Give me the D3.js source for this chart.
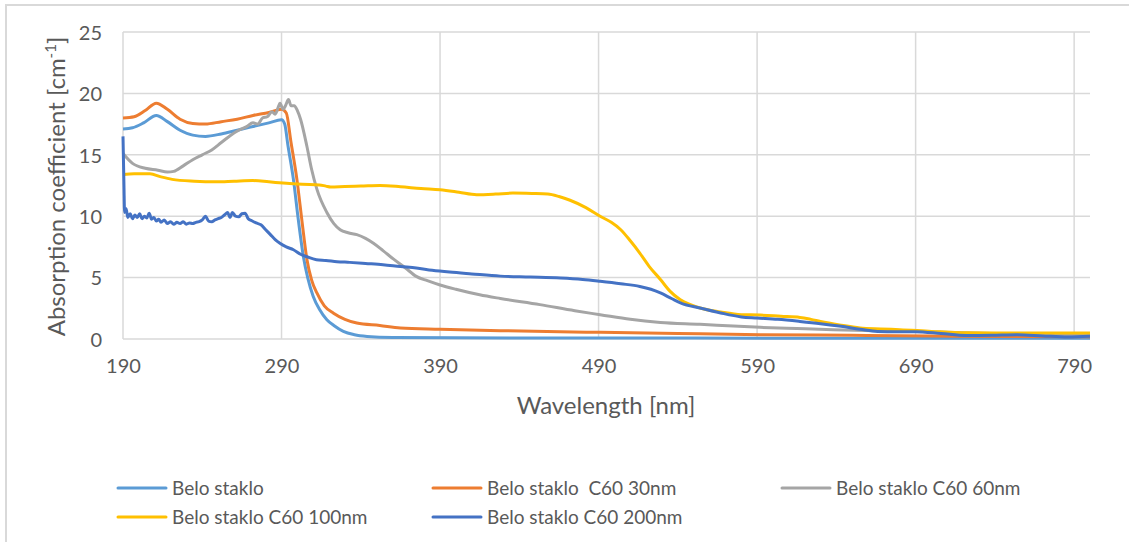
<!DOCTYPE html>
<html>
<head>
<meta charset="utf-8">
<script src="https://d3js.org/d3.v7.min.js"></script>
<style>
  body { margin: 0; background: #fff; }
  text { font-family: Lato, "Open Sans", sans-serif; fill: #595959; }
</style>
</head>
<body>
<div id="my_dataviz"></div>
<script>
// wavelengths [nm] and absorption values for each sample
var wlBelo  = [190,196,203,211,218,226,234,242,252,262,272,282,290,292,294,297.5,300.5,303.8,306.5,310,314,318.6,323,329,336,344,360,400,500,600,700,800];
var valBelo = [17.1,17.2,17.6,18.2,17.7,17.0,16.6,16.5,16.7,17.0,17.3,17.6,17.85,17.5,15.8,13.0,9.8,6.7,5.0,3.47,2.4,1.57,1.1,0.62,0.35,0.21,0.12,0.1,0.08,0.07,0.06,0.06];

var wl30  = [190,197,204,211,218,226,234,242,252,262,272,282,290,293,296,299.7,303,306,309,312.3,317,322.8,330,337.5,352,365,390,428,491,540,592,650,700,750,800];
var val30 = [18.0,18.1,18.6,19.2,18.7,17.9,17.55,17.5,17.7,17.9,18.2,18.45,18.7,18.4,16.0,13.0,9.5,6.5,4.8,3.75,2.7,2.1,1.6,1.3,1.1,0.9,0.8,0.68,0.54,0.45,0.35,0.3,0.25,0.2,0.18];

var wl60  = [190,196,204,212,218,222,228,234,240,246,252,258,263,268,272,275,278,281,284,286,288,289,291,292.5,294.4,296,298,300,302,306,309,312.3,318.6,323,327,332,337.5,343,348,354,360.7,368,375,382,390,400,415,428,453,475,491,510,529,554,575,592,615,638,665,690,715,743,770,800];
var val60 = [15.1,14.3,13.9,13.75,13.6,13.65,14.1,14.6,15.0,15.4,16.0,16.6,17.0,17.3,17.6,17.5,18.0,18.1,18.5,18.3,18.9,19.2,18.7,19.0,19.5,19.0,19.0,18.6,17.9,15.7,13.8,12.2,10.3,9.4,8.9,8.65,8.5,8.2,7.8,7.2,6.5,5.8,5.1,4.75,4.4,4.05,3.6,3.3,2.8,2.3,1.98,1.6,1.35,1.2,1.05,0.95,0.85,0.76,0.68,0.62,0.52,0.43,0.38,0.35];

var wl100  = [190,197,207,214,221,235,249,260,272,282,291,303,314,318,321,330,340,352,365,378,390,402,413,425,436,448,458,465,472,482,491,498,504,510,516,522,529,535,541.6,548,554,567,580,592,605,617,624,630,642,655,668,680,700,722,750,775,800];
var val100 = [13.4,13.45,13.45,13.2,13.0,12.85,12.8,12.85,12.9,12.8,12.7,12.6,12.55,12.45,12.38,12.42,12.45,12.5,12.4,12.25,12.15,11.95,11.75,11.8,11.88,11.85,11.8,11.6,11.3,10.7,10.0,9.5,8.9,8.0,7.0,5.9,4.85,3.9,3.2,2.8,2.52,2.2,1.98,1.95,1.85,1.76,1.6,1.43,1.15,0.9,0.82,0.76,0.62,0.5,0.48,0.48,0.48];

var wl200  = [190,190.6,191,192,193,194.5,196,197.5,199,200.5,202,203.5,205,206.5,208,209.5,211,212.5,214,216,218,220,222,224,226,228,230,232,234,236,238,240,242,244,246,248,250,252,254,256,257.5,259,261,263,265,267,269,271,274,277,280,283,286,289,293,297.5,302,306,312,318,325,333,343,354,365,375,385,396,410,428,447,466,480,491,504,516,523,529,536,542,554,567,580,590,603,617,630,643,655,666,678,690,706,722,738,754,770,786,800];
var val200 = [16.5,12.5,10.3,10.6,9.9,10.2,9.8,10.1,9.9,10.2,9.8,10.0,9.85,10.25,9.75,9.9,9.6,9.75,9.5,9.7,9.4,9.55,9.35,9.5,9.4,9.55,9.35,9.45,9.4,9.5,9.55,9.7,10.0,9.6,9.55,9.7,9.8,9.9,10.1,10.3,9.9,10.3,10.0,9.95,10.2,10.25,9.8,9.65,9.45,9.3,8.9,8.5,8.1,7.8,7.5,7.27,6.9,6.7,6.46,6.4,6.3,6.24,6.15,6.05,5.9,5.78,5.6,5.45,5.3,5.12,5.05,4.97,4.85,4.7,4.5,4.28,4.05,3.75,3.3,2.93,2.52,2.12,1.8,1.71,1.6,1.43,1.25,1.03,0.8,0.62,0.6,0.6,0.45,0.28,0.3,0.35,0.25,0.16,0.22];

var seriesNames  = ["Belo staklo", "Belo staklo  C60 30nm", "Belo staklo C60 60nm", "Belo staklo C60 100nm", "Belo staklo C60 200nm"];
var seriesColors = ["#5b9bd5", "#ed7d31", "#a5a5a5", "#ffc000", "#4472c4"];
var xTicks = [190, 290, 390, 490, 590, 690, 790];
var yTicks = [0, 5, 10, 15, 20, 25];

var series = [
  {wl: wlBelo, val: valBelo},
  {wl: wl30,   val: val30},
  {wl: wl60,   val: val60},
  {wl: wl100,  val: val100},
  {wl: wl200,  val: val200}
];

// set the dimensions and margins of the graph
var W = 1129, H = 542;
var margin = {top: 32, right: 39, bottom: 203, left: 123},
    width = W - margin.left - margin.right,
    height = H - margin.top - margin.bottom;

var svg = d3.select("#my_dataviz").append("svg")
    .attr("width", W)
    .attr("height", H);

// outer chart frame (only top and left visible in the picture)
svg.append("rect")
    .attr("x", 6).attr("y", 5)
    .attr("width", W + 20).attr("height", H + 20)
    .attr("fill", "none")
    .attr("stroke", "#d9d9d9")
    .attr("stroke-width", 2);

var g = svg.append("g")
    .attr("transform", "translate(" + margin.left + "," + margin.top + ")");

var x = d3.scaleLinear().domain([190, 800]).range([0, width]);
var y = d3.scaleLinear().domain([0, 25]).range([height, 0]);

// gridlines
g.append("g")
    .selectAll("line.hgrid")
    .data(yTicks)
    .enter().append("line")
      .attr("x1", 0).attr("x2", width)
      .attr("y1", function(d) { return y(d); })
      .attr("y2", function(d) { return y(d); })
      .attr("stroke", "#d9d9d9")
      .attr("stroke-width", 1.5);

g.append("g")
    .selectAll("line.vgrid")
    .data(xTicks)
    .enter().append("line")
      .attr("x1", function(d) { return x(d); })
      .attr("x2", function(d) { return x(d); })
      .attr("y1", 0).attr("y2", height)
      .attr("stroke", "#d9d9d9")
      .attr("stroke-width", 1.5);

// axes (labels only, lines drawn by the grid)
var xAxis = g.append("g")
    .attr("transform", "translate(0," + height + ")")
    .call(d3.axisBottom(x).tickValues(xTicks).tickSize(0).tickPadding(20));
var yAxis = g.append("g")
    .call(d3.axisLeft(y).tickValues(yTicks).tickSize(0).tickPadding(21));
xAxis.select(".domain").remove();
yAxis.select(".domain").remove();
svg.selectAll(".tick text")
    .style("font-family", "Lato, 'Open Sans', sans-serif")
    .style("font-size", "20px")
    .attr("fill", "#595959");
yAxis.selectAll(".tick text").attr("dy", "0.36em");

// axis titles
svg.append("text")
    .attr("x", 606).attr("y", 414)
    .attr("text-anchor", "middle")
    .style("font-size", "24px")
    .text("Wavelength [nm]");

var yTitle = svg.append("text")
    .attr("transform", "translate(65," + (margin.top + height / 2 + 1) + ") rotate(-90)")
    .attr("text-anchor", "middle")
    .style("font-size", "24px");
yTitle.append("tspan").text("Absorption coefficient [cm");
yTitle.append("tspan").attr("baseline-shift", "super").style("font-size", "15px").text("-1");
yTitle.append("tspan").text("]");

// the lines
var line = d3.line()
    .x(function(d) { return x(d[0]); })
    .y(function(d) { return y(d[1]); })
    .curve(d3.curveMonotoneX);

series.forEach(function(s, i) {
  var pts = s.wl.map(function(w, j) { return [w, s.val[j]]; });
  g.append("path")
    .datum(pts)
    .attr("fill", "none")
    .attr("stroke", seriesColors[i])
    .attr("stroke-width", 3)
    .attr("stroke-linejoin", "round")
    .attr("d", line);
});

// legend
var legendPos = [[118, 488], [433, 488], [782, 488], [118, 517], [433, 517]];
var legend = svg.append("g")
    .selectAll("g")
    .data(seriesNames)
    .enter().append("g")
      .attr("transform", function(d, i) { return "translate(" + legendPos[i][0] + "," + legendPos[i][1] + ")"; });
legend.append("line")
    .attr("x1", 0).attr("x2", 48)
    .attr("stroke", function(d, i) { return seriesColors[i]; })
    .attr("stroke-width", 3)
    .attr("stroke-linecap", "round");
legend.append("text")
    .attr("x", 54)
    .attr("dy", "0.36em")
    .style("font-size", "19px")
    .style("white-space", "pre")
    .text(function(d) { return d; });
</script>
</body>
</html>
